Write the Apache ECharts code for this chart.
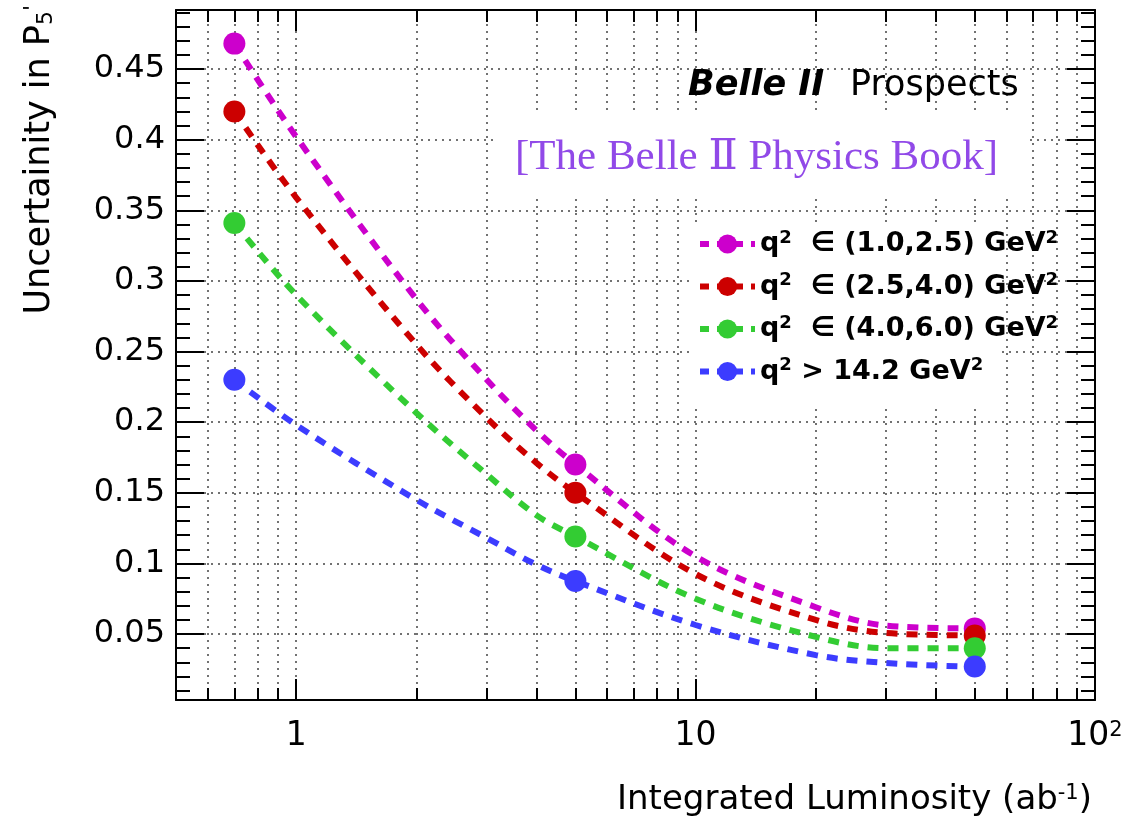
<!DOCTYPE html>
<html>
<head>
<meta charset="utf-8">
<style>
    html, body { margin: 0; padding: 0; background: #fff; }
    #chart { width: 1123px; height: 824px; }
</style>
<script src="https://cdn.jsdelivr.net/npm/echarts@6/dist/echarts.min.js"></script>
</head>
<body>
<div id="chart"></div>
<script>
    // measured points (integrated luminosity in ab^-1)
    var lumi = [0.7, 5, 50];
    var unc_q2_1 = [0.468, 0.170, 0.054];
    var unc_q2_2 = [0.420, 0.150, 0.049];
    var unc_q2_3 = [0.341, 0.119, 0.040];
    var unc_q2_4 = [0.230, 0.0875, 0.027];

    // dashed curves
    var lumiCurve = [0.7, 1, 2, 3, 4, 5, 10, 20, 30, 50];
    var curve_q2_1 = [0.468, 0.402, 0.287, 0.230, 0.194, 0.170, 0.105, 0.069, 0.056, 0.054];
    var curve_q2_2 = [0.420, 0.359, 0.255, 0.203, 0.171, 0.150, 0.0925, 0.060, 0.0507, 0.049];
    var curve_q2_3 = [0.341, 0.290, 0.2065, 0.163, 0.134, 0.119, 0.075, 0.048, 0.040, 0.040];
    var curve_q2_4 = [0.230, 0.198, 0.145, 0.118, 0.099, 0.0875, 0.0564, 0.0351, 0.0295, 0.0268];

    var seriesNames = ['q2 (1.0,2.5)', 'q2 (2.5,4.0)', 'q2 (4.0,6.0)', 'q2 > 14.2'];
    var legendLabels = [
        '{b|q}{s|2}{b|  ∈ (1.0,2.5) GeV}{s|2}',
        '{b|q}{s|2}{b|  ∈ (2.5,4.0) GeV}{s|2}',
        '{b|q}{s|2}{b|  ∈ (4.0,6.0) GeV}{s|2}',
        '{b|q}{s|2}{b| > 14.2 GeV}{s|2}'
    ];
    var colors = ['#cc00cc', '#cc0000', '#33cc33', '#3c3cff'];

    var xMajorTicks = [1, 10, 100];
    var xMinorTicks = [0.6, 0.7, 0.8, 0.9, 2, 3, 4, 5, 6, 7, 8, 9, 20, 30, 40, 50, 60, 70, 80, 90];

    var FONT = "'DejaVu Sans', sans-serif";
    var pts = [unc_q2_1, unc_q2_2, unc_q2_3, unc_q2_4];
    var curves = [curve_q2_1, curve_q2_2, curve_q2_3, curve_q2_4];

    var myChart = echarts.init(document.getElementById('chart'));

    function makeX(position, ticks, len, withLine, withLabel) {
        return {
            type: 'log',
            position: position,
            min: 0.5,
            max: 100,
            axisLine: { show: withLine, onZero: false, lineStyle: { color: '#000', width: 2 } },
            axisTick: { show: true, inside: true, length: len, customValues: ticks,
                lineStyle: { color: '#000', width: 2 } },
            splitLine: { show: position === 'bottom',
                lineStyle: { color: '#444', width: 1.5, type: [2, 5] } },
            axisLabel: {
                show: withLabel,
                customValues: ticks,
                margin: 20,
                color: '#000',
                fontSize: 33,
                fontFamily: FONT,
                formatter: function (v) {
                    if (v >= 100) return '{n|10}{s|2}';
                    return '{n|' + v + '}';
                },
                rich: {
                    n: { fontSize: 33, fontFamily: FONT, color: '#000' },
                    s: { fontSize: 21, fontFamily: FONT, color: '#000', verticalAlign: 'top' }
                }
            }
        };
    }

    function makeY(position, withLabel, withSplit) {
        return {
            type: 'value',
            position: position,
            min: 0.0033,
            max: 0.4918,
            splitNumber: 10,
            axisLine: { show: true, onZero: false, lineStyle: { color: '#000', width: 2 } },
            axisTick: { show: true, inside: true, length: 28, lineStyle: { color: '#000', width: 2 } },
            minorTick: { show: true, splitNumber: 5, length: 14, lineStyle: { color: '#000', width: 2 } },
            splitLine: { show: withSplit, lineStyle: { color: '#444', width: 1.5, type: [2, 5] } },
            axisLabel: {
                show: withLabel,
                showMinLabel: false,
                showMaxLabel: false,
                margin: 11,
                color: '#000',
                fontSize: 32,
                fontFamily: FONT
            }
        };
    }

    var series = [];
    seriesNames.forEach(function (name, i) {
        series.push({
            name: name,
            type: 'line',
            xAxisIndex: 0,
            yAxisIndex: 0,
            data: lumiCurve.map(function (x, k) { return [x, curves[i][k]]; }),
            smooth: 0.35,
            symbol: 'circle',
            symbolSize: 20,
            showSymbol: false,
            z: 2,
            lineStyle: { color: colors[i], width: 6, type: [11, 9] },
            itemStyle: { color: colors[i] }
        });
        series.push({
            name: name,
            type: 'scatter',
            xAxisIndex: 0,
            yAxisIndex: 0,
            data: lumi.map(function (x, k) { return [x, pts[i][k]]; }),
            symbol: 'circle',
            symbolSize: 22,
            z: 3,
            itemStyle: { color: colors[i], opacity: 1 }
        });
    });

    var option = {
        animation: false,
        backgroundColor: '#fff',
        grid: { left: 176, right: 28, top: 10, bottom: 124, outerBoundsMode: 'none' },
        xAxis: [
            makeX('bottom', xMajorTicks, 21, true, true),
            makeX('bottom', xMinorTicks, 12, false, false),
            makeX('top', xMajorTicks, 21, true, false),
            makeX('top', xMinorTicks, 12, false, false)
        ],
        yAxis: [
            makeY('left', true, true),
            makeY('right', false, false)
        ],
        legend: {
            orient: 'vertical',
            left: 697,
            top: 229,
            padding: 0,
            itemGap: 14,
            itemWidth: 55,
            itemHeight: 24,
            data: seriesNames,
            lineStyle: { width: 6, type: [9, 8] },
            formatter: function (name) {
                return legendLabels[seriesNames.indexOf(name)];
            },
            textStyle: {
                rich: {
                    b: { fontSize: 27, fontWeight: 'bold', fontFamily: FONT, color: '#000', lineHeight: 30 },
                    s: { fontSize: 18, fontWeight: 'bold', fontFamily: FONT, color: '#000', verticalAlign: 'top' }
                }
            }
        },
        graphic: [
            { type: 'rect', silent: true, z: 1, shape: { x: 498, y: 115, width: 532, height: 82 }, style: { fill: '#fff' } },
            { type: 'rect', silent: true, z: 1, shape: { x: 690, y: 225, width: 312, height: 180 }, style: { fill: '#fff' } },
            { type: 'text', z: 5, x: 688, y: 86,
              style: { text: 'Belle II', font: 'italic bold 35px ' + FONT, fill: '#000', verticalAlign: 'middle' } },
            { type: 'text', z: 5, x: 850, y: 86,
              style: { text: 'Prospects', font: '35px ' + FONT, fill: '#000', verticalAlign: 'middle' } },
            { type: 'text', z: 5, x: 515, y: 158,
              style: { text: '[The Belle Ⅱ Physics Book]', font: "43px 'Liberation Serif', 'DejaVu Serif', serif",
                       fill: '#9149e8', verticalAlign: 'middle' } },
            { type: 'text', z: 5, x: 1092, y: 800,
              style: {
                  text: '{t|Integrated Luminosity (ab}{s|-1}{t|)}',
                  align: 'right', verticalAlign: 'middle',
                  rich: {
                      t: { fontSize: 34, fontFamily: FONT, fill: '#000' },
                      s: { fontSize: 21, fontFamily: FONT, fill: '#000', verticalAlign: 'top' }
                  }
              } },
            { type: 'text', z: 5, x: 40, y: 5, rotation: Math.PI / 2,
              style: {
                  text: "{t|Uncertainity in P}{d|5}{s|'}",
                  align: 'right', verticalAlign: 'middle',
                  rich: {
                      t: { fontSize: 35, fontFamily: FONT, fill: '#000' },
                      d: { fontSize: 22, fontFamily: FONT, fill: '#000', verticalAlign: 'bottom' },
                      s: { fontSize: 22, fontFamily: FONT, fill: '#000', verticalAlign: 'top' }
                  }
              } }
        ],
        series: series
    };
    myChart.setOption(option);
</script>
</body>
</html>
